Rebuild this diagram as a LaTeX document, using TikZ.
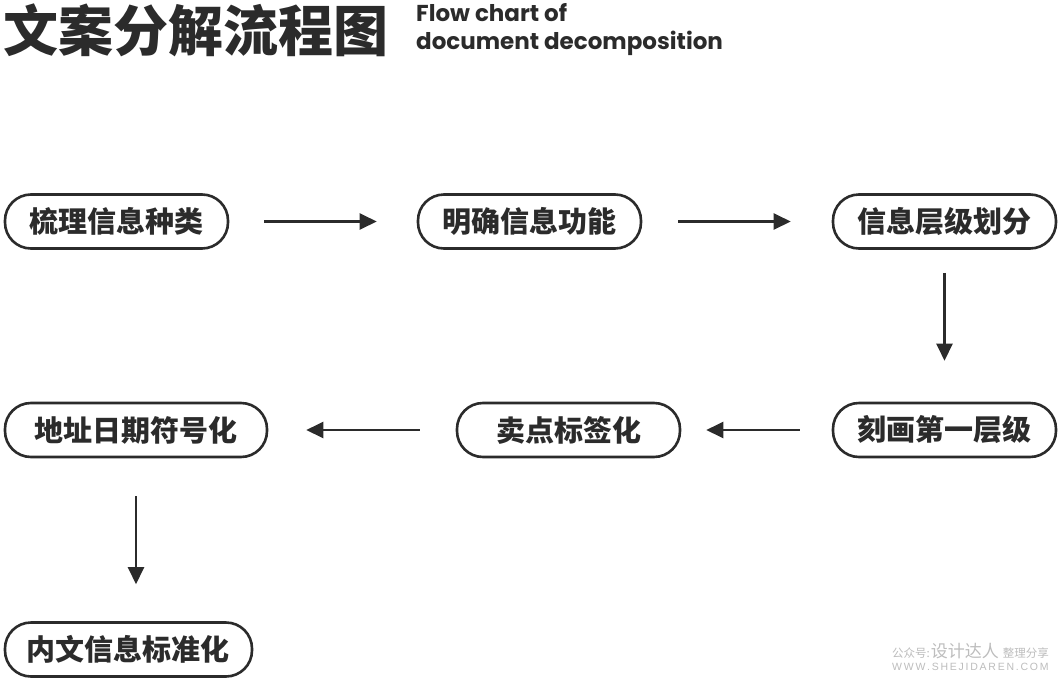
\documentclass[tikz,border=0pt]{standalone}
\usepackage{fontspec}
\usetikzlibrary{arrows.meta}
\newfontfamily\cjk{Noto Sans CJK SC}
\newfontfamily\pop{Poppins}
\newfontfamily\wmsans{Liberation Sans}
\definecolor{ink}{HTML}{2B2B2B}
\definecolor{wm}{HTML}{BDBDBD}
\tikzset{
  stepbox/.style={draw=ink, line width=2.6pt, rounded corners=26pt, minimum height=54pt,
    inner sep=0pt, text=ink, font=\cjk\bfseries\fontsize{29}{32}\selectfont},
  flow/.style={draw=ink, line width=2.4pt, -{Triangle[length=17pt,width=16pt]}}
}
\begin{document}
\begin{tikzpicture}[x=1pt,y=-1pt]
\useasboundingbox (0,0) rectangle (1061,691);
\fill[white] (0,0) rectangle (1061,691);
% title
\node[anchor=west, inner sep=0pt, text=ink, font=\cjk\bfseries\fontsize{55}{60}\selectfont] (title) at (3,30) {文案分解流程图};
\node[anchor=north west, inner sep=0pt, text=ink, align=left, font=\pop\bfseries\fontsize{23}{28}\selectfont] (sub) at (416,3) {Flow chart of\\document decomposition};
% boxes
\node[stepbox, minimum width=223pt] (b1) at (116.5,221.5) {梳理信息种类};
\node[stepbox, minimum width=223pt] (b2) at (529.5,221.5) {明确信息功能};
\node[stepbox, minimum width=223pt] (b3) at (944.5,221.5) {信息层级划分};
\node[stepbox, minimum width=223pt] (b4) at (944.5,430) {刻画第一层级};
\node[stepbox, minimum width=223pt] (b5) at (568.5,430) {卖点标签化};
\node[stepbox, minimum width=262pt] (b6) at (136,430) {地址日期符号化};
\node[stepbox, minimum width=247pt] (b7) at (128.5,649.5) {内文信息标准化};
\coordinate (b7top) at (b6.south |- b7.north);
% arrows
\draw[flow, shorten <=35pt, shorten >=40pt] (b1.east) -- (b2.west);
\draw[flow, shorten <=36pt, shorten >=41pt] (b2.east) -- (b3.west);
\draw[flow, shorten <=23pt, shorten >=41pt] (b3.south) -- (b4.north);
\draw[flow, shorten <=32pt, shorten >=25pt] (b4.west) -- (b5.east);
\draw[flow, shorten <=36pt, shorten >=38pt] (b5.west) -- (b6.east);
\draw[flow, shorten <=38pt, shorten >=37pt] (b6.south) -- (b7top);
% watermark
\node[anchor=west, inner sep=0pt, text=wm, font=\cjk] (wm1) at (892,651) {{\fontsize{11.5}{12}\selectfont 公众号:}\hspace{1pt}{\fontsize{17}{18}\selectfont 设计达人}\hspace{4pt}{\fontsize{11.5}{12}\selectfont 整理分享}};
\node[anchor=west, inner sep=0pt, text=wm, font=\wmsans\fontsize{10.5}{12}\selectfont] (wm2) at (892,667) {W\,W\,W\,.\,S\,H\,E\,J\,I\,D\,A\,R\,E\,N\,.\,C\,O\,M};
\end{tikzpicture}
\end{document}
